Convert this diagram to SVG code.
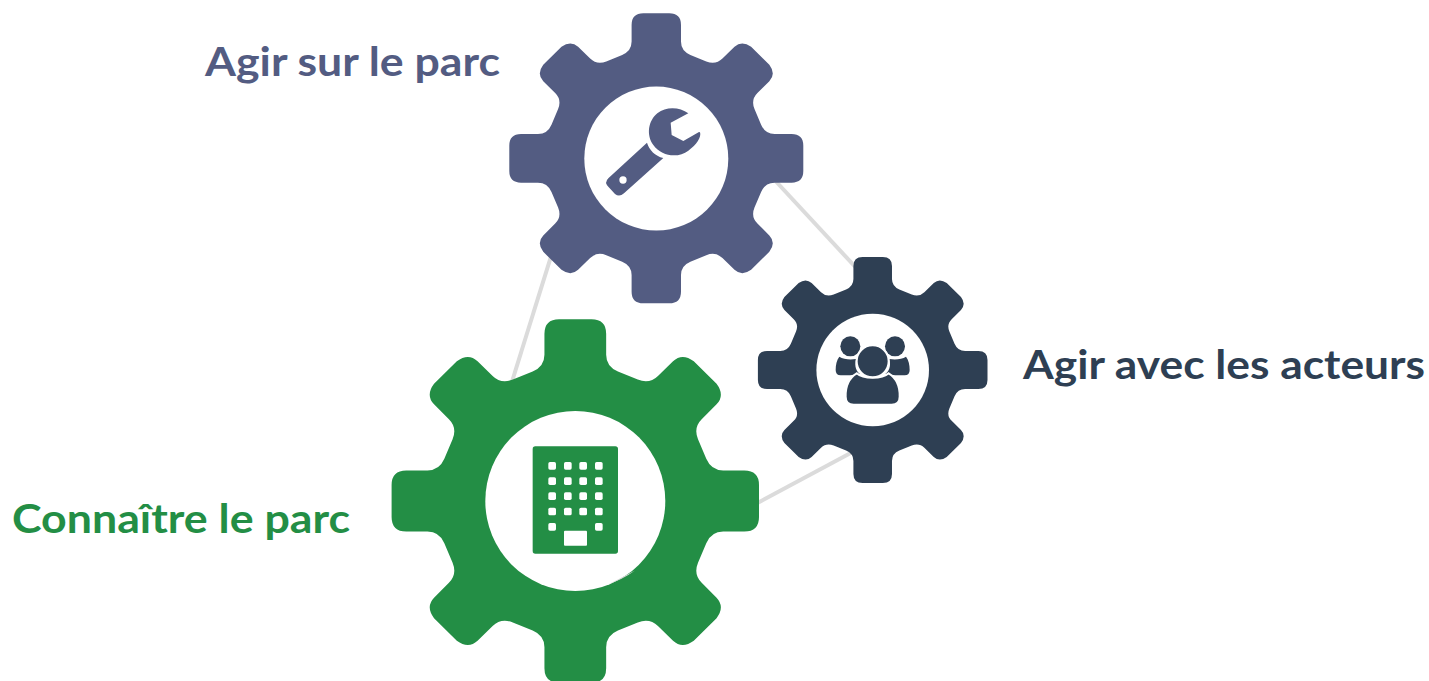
<svg xmlns="http://www.w3.org/2000/svg" width="1429" height="681" viewBox="0 0 1429 681">
<style>
.lbl{font-family:Lato,"Open Sans","Liberation Sans",sans-serif;font-weight:700;font-size:41px}
.conn{stroke:#DBDBDB;stroke-width:4;fill:none}
.blue{fill:#535C82}.dark{fill:#2E3F53}.green{fill:#238E45}.hole{fill:#fff}
</style>
<defs>
<path id="gear" d="M-23.2,-71.3Q-16.8,-74 -16.8,-80.5L-16.8,-92Q-16.8,-100 -8.8,-100L8.8,-100Q16.8,-100 16.8,-92L16.8,-80.5Q16.8,-74 23.2,-71.3L34,-66.8Q40.4,-64.2 45,-68.8L53.2,-76.9Q58.2,-81.6 64.5,-76.9L76.9,-64.5Q81.6,-58.2 76.9,-53.2L68.8,-45Q64.2,-40.4 66.8,-34L71.3,-23.2Q74,-16.8 80.5,-16.8L92,-16.8Q100,-16.8 100,-8.8L100,8.8Q100,16.8 92,16.8L80.5,16.8Q74,16.8 71.3,23.2L66.8,34Q64.2,40.4 68.8,45L76.9,53.2Q81.6,58.2 76.9,64.5L64.5,76.9Q58.2,81.6 53.2,76.9L45,68.8Q40.4,64.2 34,66.8L23.2,71.3Q16.8,74 16.8,80.5L16.8,92Q16.8,100 8.8,100L-8.8,100Q-16.8,100 -16.8,92L-16.8,80.5Q-16.8,74 -23.2,71.3L-34,66.8Q-40.4,64.2 -45,68.8L-53.2,76.9Q-58.2,81.6 -64.5,76.9L-76.9,64.5Q-81.6,58.2 -76.9,53.2L-68.8,45Q-64.2,40.4 -66.8,34L-71.3,23.2Q-74,16.8 -80.5,16.8L-92,16.8Q-100,16.8 -100,8.8L-100,-8.8Q-100,-16.8 -92,-16.8L-80.5,-16.8Q-74,-16.8 -71.3,-23.2L-66.8,-34Q-64.2,-40.4 -68.8,-45L-76.9,-53.2Q-81.6,-58.2 -76.9,-64.5L-64.5,-76.9Q-58.2,-81.6 -53.2,-76.9L-45,-68.8Q-40.4,-64.2 -34,-66.8Z"/>
</defs>
<g id="connectors">
<line class="conn" x1="553" y1="250" x2="510" y2="388"/>
<line class="conn" x1="770" y1="175" x2="860" y2="272"/>
<line class="conn" x1="860" y1="448" x2="750" y2="507"/>
</g>
<g id="gear-parc-agir">
<use href="#gear" class="blue" transform="translate(656.3 158.3) scale(1.47 1.45)"/>
<circle class="hole" cx="656.3" cy="158.6" r="72"/>
<g transform="translate(500 0) scale(.33333)">
<path class="blue" d="M565,340C540,322 500,318 472,340C445,362 438,405 460,435C485,470 535,475 565,452C590,435 605,410 600,397L597,396L550,423L515,405L512,368Z"/>
<path class="blue" d="M441,428L325,535Q312,548 325,560L345,582Q358,592 372,580L490,474C465,468 448,450 441,428Z"/>
<circle class="hole" cx="369" cy="540" r="11"/>
</g>
<text class="lbl blue" x="205" y="76" textLength="295" lengthAdjust="spacingAndGlyphs">Agir sur le parc</text>
</g>
<g id="gear-acteurs">
<use href="#gear" class="dark" transform="translate(872.7 370) scale(1.148 1.13)"/>
<circle class="hole" cx="872.7" cy="370" r="56.3"/>
<g transform="translate(750 250) scale(.33333)">
<circle class="dark" cx="301" cy="289" r="30"/>
<circle class="dark" cx="435" cy="289" r="30"/>
<path class="dark" d="M268,320C280,328 300,330 318,327C312,350 320,365 330,372L300,376L272,376Q257,376 257,360C257,345 260,330 268,320Z"/>
<path class="dark" d="M468,320C456,328 436,330 418,327C424,350 416,365 406,372L436,376L464,376Q479,376 479,360C479,345 476,330 468,320Z"/>
<path class="dark" stroke="#fff" stroke-width="6" d="M320,370C340,388 396,388 416,370C440,385 450,410 449,440Q449,464 425,464L311,464Q287,464 287,440C286,410 296,385 320,370Z"/>
<circle class="dark" stroke="#fff" stroke-width="6" cx="368" cy="334" r="48"/>
</g>
<text class="lbl dark" x="1023" y="379" textLength="402" lengthAdjust="spacingAndGlyphs">Agir avec les acteurs</text>
</g>
<g id="gear-connaitre">
<use href="#gear" class="green" transform="translate(575.3 501) scale(1.837 1.817)"/>
<circle class="hole" cx="575.3" cy="501" r="90"/>
<path fill="#DBDBDB" d="M607,584.5Q622,580 635,570.5L612,582.5Z"/>
<g transform="translate(385 315) scale(.33333)">
<rect class="green" x="443" y="394" width="256" height="322" rx="8"/>
<g class="hole">
<rect x="490" y="441" width="23" height="23" rx="5"/><rect x="537" y="441" width="23" height="23" rx="5"/><rect x="583" y="441" width="23" height="23" rx="5"/><rect x="630" y="441" width="23" height="23" rx="5"/>
<rect x="490" y="487" width="23" height="23" rx="5"/><rect x="537" y="487" width="23" height="23" rx="5"/><rect x="583" y="487" width="23" height="23" rx="5"/><rect x="630" y="487" width="23" height="23" rx="5"/>
<rect x="490" y="532" width="23" height="23" rx="5"/><rect x="537" y="532" width="23" height="23" rx="5"/><rect x="583" y="532" width="23" height="23" rx="5"/><rect x="630" y="532" width="23" height="23" rx="5"/>
<rect x="490" y="578" width="23" height="23" rx="5"/><rect x="537" y="578" width="23" height="23" rx="5"/><rect x="583" y="578" width="23" height="23" rx="5"/><rect x="630" y="578" width="23" height="23" rx="5"/>
<rect x="490" y="624" width="23" height="23" rx="5"/><rect x="630" y="624" width="23" height="23" rx="5"/>
<rect x="537" y="647" width="69" height="45" rx="3"/>
</g>
</g>
<text class="lbl green" x="12" y="533" textLength="338" lengthAdjust="spacingAndGlyphs">Connaître le parc</text>
</g>
</svg>
